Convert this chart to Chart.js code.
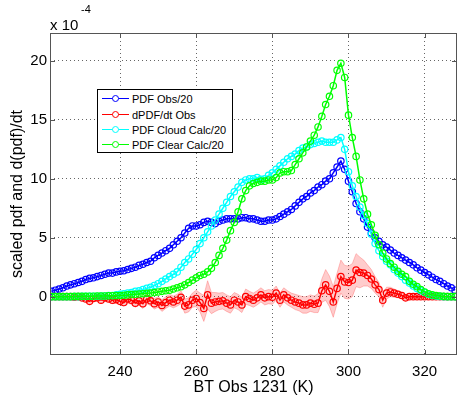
<!DOCTYPE html>
<html>
<head>
<meta charset="utf-8">
<script src="https://cdn.jsdelivr.net/npm/chart.js@4.4.0/dist/chart.umd.min.js"></script>
<style>
  body { margin: 0; background: #fff; }
  #wrap { position: relative; width: 466px; height: 401px; font-family: "Liberation Sans", Arial, sans-serif; color: #000; }
  #expo { position: absolute; left: 50px; top: 17px; font-size: 15px; line-height: 15px; }
  #expo sup { position: absolute; left: 31px; top: -13px; font-size: 11px; line-height: 11px; }
  #legend { position: absolute; left: 97px; top: 89px; width: 136px; height: 64px; box-sizing: border-box;
            border: 1px solid #000; background: #fff; }
  .row { position: absolute; left: 0; height: 14px; width: 130px; font-size: 11px; line-height: 14px; }
  .row .ln { position: absolute; left: 4px; top: 6px; width: 27px; height: 0; border-top: 1.5px solid; }
  .row .dot { position: absolute; left: 14px; top: 3px; width: 5px; height: 5px; border: 1.3px solid; border-radius: 50%; background: #fff; }
  .row .tx { position: absolute; left: 34px; top: 0; white-space: nowrap; }
</style>
</head>
<body>
<div id="wrap">
  <canvas id="chart" width="466" height="401"></canvas>
  <div id="expo">x 10<sup>-4</sup></div>
  <div id="legend"></div>
</div>
<script>
// brightness temperature bins (K)
const bt = [
  222,223,224,225,226,227,228,229,230,231,
  232,233,234,235,236,237,238,239,240,241,
  242,243,244,245,246,247,248,249,250,251,
  252,253,254,255,256,257,258,259,260,261,
  262,263,264,265,266,267,268,269,270,271,
  272,273,274,275,276,277,278,279,280,281,
  282,283,284,285,286,287,288,289,290,291,
  292,293,294,295,296,297,298,299,300,301,
  302,303,304,305,306,307,308,309,310,311,
  312,313,314,315,316,317,318,319,320,321,
  322,323,324,325,326,327,328
];

// values in units of 1e-4
const pdfObs = [
  0.45,0.55,0.65,0.75,0.9,1.0,1.1,1.2,1.3,1.45,
  1.55,1.6,1.7,1.8,1.9,2.0,2.0,2.1,2.15,2.2,
  2.3,2.4,2.5,2.65,2.75,2.9,3.0,3.3,3.5,3.7,
  3.9,4.1,4.4,4.7,5.0,5.4,5.8,6.0,6.0,6.1,
  6.3,6.4,6.3,6.2,6.4,6.5,6.6,6.6,6.6,6.6,
  6.7,6.7,6.6,6.6,6.5,6.4,6.4,6.5,6.5,6.6,
  6.8,7.0,7.2,7.4,7.7,8.0,8.3,8.5,8.8,9.0,
  9.3,9.5,9.8,10.0,10.5,11.0,11.5,10.8,9.8,8.9,
  7.9,7.2,6.6,5.9,5.4,5.0,4.7,4.4,4.2,3.95,
  3.7,3.5,3.3,3.1,2.9,2.7,2.45,2.25,2.05,1.85,
  1.65,1.45,1.3,1.1,0.9,0.75,0.55
];

const dpdfObs = [
  0,0,0,0,0,0,-0.05,0,-0.1,-0.2,
  -0.4,-0.15,-0.1,-0.3,-0.1,-0.2,-0.3,-0.25,-0.4,-0.5,
  -0.2,-0.3,-0.55,-0.35,-0.6,-0.2,-0.35,-0.6,-0.45,-0.75,
  -0.5,-0.3,-0.45,-0.3,-0.05,-0.8,-0.7,-0.3,-0.15,-0.5,
  -1.0,0.15,-0.55,-0.45,-0.4,-0.35,-0.55,-0.7,-0.3,-0.45,
  -0.7,0.0,-0.15,-0.3,-0.1,0.15,-0.1,0.0,-0.05,0.3,
  -0.3,0.15,-0.1,-0.3,-0.45,-0.55,-0.7,-0.7,-0.55,-0.65,
  -0.55,0.5,1.0,0.45,-0.45,0.7,1.7,1.25,1.2,1.4,
  2.25,2.05,2.0,1.8,1.5,1.0,0.6,-0.3,0.3,0.4,
  0.3,0.2,0.1,-0.1,0,0,0,0,0,0,
  0,0,0,0,0,0,0
];

// half width of the shaded uncertainty band around dPDF/dt
const dpdfErr = [
  0.05,0.05,0.05,0.05,0.1,0.1,0.1,0.15,0.15,0.2,
  0.2,0.2,0.2,0.25,0.25,0.25,0.3,0.3,0.3,0.3,
  0.35,0.35,0.35,0.35,0.4,0.4,0.4,0.45,0.45,0.5,
  0.5,0.5,0.5,0.5,0.55,0.6,0.6,0.6,0.7,0.8,
  1.1,1.2,0.9,0.8,0.7,0.7,0.7,0.7,0.65,0.65,
  0.65,0.65,0.6,0.6,0.6,0.6,0.6,0.6,0.6,0.6,
  0.6,0.6,0.6,0.6,0.65,0.65,0.7,0.7,0.7,0.7,
  0.8,1.0,1.3,1.3,1.3,1.3,1.4,1.4,1.4,1.4,
  1.4,1.3,1.1,0.9,0.8,0.7,0.6,0.6,0.5,0.4,
  0.35,0.3,0.25,0.2,0.15,0.15,0.1,0.1,0.1,0.1,
  0.1,0.1,0.1,0.1,0.05,0.05,0.05
];

const pdfCloud = [
  0,0,0,0,0,0,0,0,0.02,0.02,
  0.03,0.03,0.04,0.05,0.05,0.1,0.1,0.15,0.2,0.25,
  0.3,0.35,0.45,0.5,0.6,0.7,0.8,0.95,1.1,1.3,
  1.5,1.7,1.9,2.1,2.5,2.9,3.2,3.6,4.0,4.5,
  5.0,5.5,6.0,6.5,7.0,7.5,8.0,8.5,8.9,9.3,
  9.7,9.9,10.0,10.0,10.1,9.95,10.0,10.3,10.5,10.8,
  11.1,11.4,11.7,11.9,12.1,12.4,12.6,12.7,12.9,13.0,
  13.1,13.2,13.1,13.1,13.1,13.3,13.5,12.5,10.6,9.4,
  8.5,7.6,6.9,6.2,5.3,4.5,3.9,3.4,3.0,2.7,
  2.3,2.0,1.7,1.4,1.15,0.9,0.7,0.5,0.35,0.2,
  0.1,0.05,0.02,0,0,0,0
];

const pdfClear = [
  0,0,0,0,0,0,0.02,0.02,0.03,0.03,
  0.04,0.04,0.05,0.05,0.06,0.07,0.08,0.09,0.1,0.12,
  0.15,0.18,0.2,0.22,0.25,0.28,0.3,0.35,0.4,0.45,
  0.5,0.55,0.65,0.75,0.85,1.0,1.2,1.4,1.6,1.8,
  1.9,2.1,2.4,2.9,3.5,4.1,4.8,5.6,6.3,7.2,
  8.3,9.0,9.4,9.6,9.7,9.8,9.8,9.9,9.9,10.1,
  10.5,10.6,10.6,10.7,11.2,11.7,12.2,12.7,13.2,13.7,
  14.4,15.3,16.3,17.0,17.9,19.2,19.8,18.6,15.4,13.5,
  11.9,9.9,8.3,7.0,6.1,5.2,4.4,3.7,3.2,2.8,
  2.5,2.15,1.9,1.7,1.3,1.05,0.85,0.6,0.4,0.25,
  0.15,0.1,0.05,0.02,0,0,0
];

const xTicks = [240, 260, 280, 300, 320];
const yTicks = [0, 5, 10, 15, 20];

const seriesNames = ["PDF Obs/20", "dPDF/dt Obs", "PDF Cloud Calc/20", "PDF Clear Calc/20"];
const seriesColors = ["#0000ff", "#ff0000", "#00ffff", "#00ff00"];

const pts = arr => arr.map((v, i) => ({ x: bt[i], y: v }));

function lineSet(idx, values, order) {
  return {
    label: seriesNames[idx],
    data: pts(values),
    borderColor: seriesColors[idx],
    borderWidth: 1.5,
    pointRadius: 3.2,
    pointBorderWidth: 1.2,
    pointBackgroundColor: "rgba(0,0,0,0)",
    pointBorderColor: seriesColors[idx],
    tension: 0,
    fill: false,
    order: order
  };
}

const bandUpper = dpdfObs.map((v, i) => v + dpdfErr[i]);
const bandLower = dpdfObs.map((v, i) => v - dpdfErr[i]);

/* ===== box and inward ticks ===== */
const boxPlugin = {
  id: "box",
  afterDraw(chart) {
    const { ctx, chartArea: a, scales } = chart;
    ctx.save();
    ctx.strokeStyle = "#555";
    ctx.lineWidth = 1;
    ctx.strokeRect(a.left + 0.5, a.top + 0.5, a.right - a.left - 1, a.bottom - a.top - 1);
    ctx.beginPath();
    xTicks.forEach(t => {
      const x = Math.round(scales.x.getPixelForValue(t)) + 0.5;
      ctx.moveTo(x, a.bottom); ctx.lineTo(x, a.bottom - 5);
      ctx.moveTo(x, a.top); ctx.lineTo(x, a.top + 5);
    });
    yTicks.forEach(t => {
      const y = Math.round(scales.y.getPixelForValue(t)) + 0.5;
      ctx.moveTo(a.left, y); ctx.lineTo(a.left + 5, y);
      ctx.moveTo(a.right, y); ctx.lineTo(a.right - 5, y);
    });
    ctx.stroke();
    ctx.restore();
  }
};

const gridStyle = { color: "rgba(0,0,0,0.6)", lineWidth: 1, drawTicks: false };

new Chart(document.getElementById("chart"), {
  type: "line",
  data: {
    datasets: [
      { label: "band upper", data: pts(bandUpper), borderColor: "rgba(255,90,90,0.45)", borderWidth: 0.8,
        pointRadius: 0, backgroundColor: "rgba(255,0,0,0.2)", fill: "+1", tension: 0, order: 10 },
      { label: "band lower", data: pts(bandLower), borderColor: "rgba(255,90,90,0.45)", borderWidth: 0.8,
        pointRadius: 0, fill: false, tension: 0, order: 11 },
      lineSet(0, pdfObs, 4),
      lineSet(1, dpdfObs, 3),
      lineSet(2, pdfCloud, 2),
      lineSet(3, pdfClear, 1)
    ]
  },
  options: {
    responsive: false,
    animation: false,
    layout: { padding: { top: 33, right: 9, left: 0, bottom: 0 } },
    plugins: { legend: { display: false }, tooltip: { enabled: false } },
    scales: {
      x: {
        type: "linear",
        min: 221.6,
        max: 328.5,
        afterBuildTicks: s => { s.ticks = xTicks.map(v => ({ value: v })); },
        afterFit: s => { s.height = 46; },
        grid: gridStyle,
        border: { display: false, dash: [1, 3] },
        ticks: { color: "#000", padding: 8, maxRotation: 0,
                 font: { family: "Liberation Sans", size: 15 } },
        title: { display: true, text: "BT Obs 1231 (K)", color: "#000", padding: 4,
                 font: { family: "Liberation Sans", size: 16 } }
      },
      y: {
        min: -4.95,
        max: 22.37,
        afterBuildTicks: s => { s.ticks = yTicks.map(v => ({ value: v })); },
        afterFit: s => { s.width = 50; },
        grid: gridStyle,
        border: { display: false, dash: [1, 3] },
        ticks: { color: "#000", padding: 3,
                 font: { family: "Liberation Sans", size: 15 } },
        title: { display: true, text: "scaled pdf and d(pdf)/dt", color: "#000", padding: 8,
                 font: { family: "Liberation Sans", size: 16 } }
      }
    }
  },
  plugins: [boxPlugin]
});

/* ===== LEGEND ===== */
const legendEl = document.getElementById("legend");
const rowTops = [2, 17.5, 32.5, 47.5];
seriesNames.forEach((name, i) => {
  const row = document.createElement("div");
  row.className = "row";
  row.style.top = rowTops[i] + "px";
  row.innerHTML = `<span class="ln" style="border-color:${seriesColors[i]}"></span>` +
                  `<span class="dot" style="border-color:${seriesColors[i]}"></span>` +
                  `<span class="tx">${name}</span>`;
  legendEl.appendChild(row);
});
</script>
</body>
</html>
